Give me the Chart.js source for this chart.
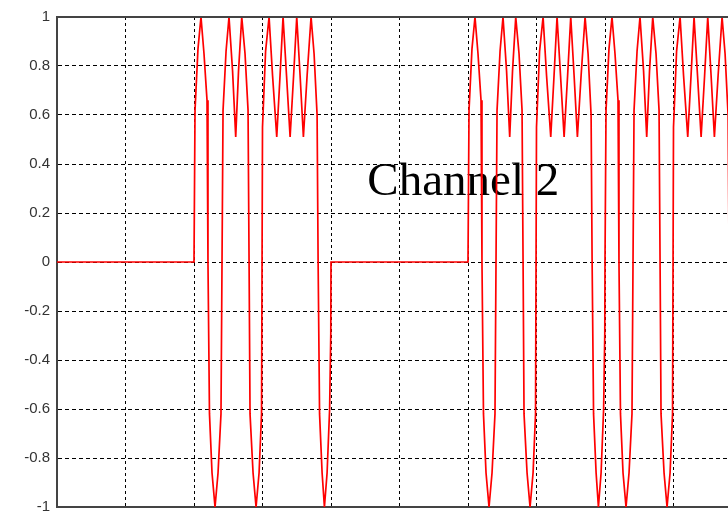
<!DOCTYPE html>
<html>
<head>
<meta charset="utf-8">
<script src="https://cdn.jsdelivr.net/npm/chart.js@4"></script>
<style>
    html, body { margin: 0; padding: 0; background: #fff; overflow: hidden; }
    #wrap { width: 742px; height: 530px; }
</style>
</head>
<body>
<div id="wrap"><canvas id="myChart"></canvas></div>
<script>

// one burst of the channel waveform, x offset from the burst start (in grid units)
const symbol_offsets = [
    0, 0.015, 0.058, 0.102, 0.146, 0.190, 0.204, 0.226, 0.263, 0.307,
    0.351, 0.394, 0.409, 0.424, 0.468, 0.511, 0.563, 0.609, 0.650, 0.697,
    0.745, 0.789, 0.804, 0.818, 0.862, 0.906, 0.950, 0.986, 1.000, 1.045,
    1.096, 1.147, 1.208, 1.256, 1.300, 1.351, 1.403, 1.454, 1.500, 1.549,
    1.597, 1.651, 1.709, 1.753, 1.797, 1.812, 1.833, 1.870, 1.904, 1.943,
    1.980, 1.997, 2.000,
];
const symbol_levels = [
    0, 0.62, 0.87, 1.0, 0.85, 0.66, 0.0, -0.62, -0.86, -1.0,
    -0.86, -0.62, 0.0, 0.62, 0.86, 1.0, 0.78, 0.51, 0.78, 1.0,
    0.85, 0.62, 0.0, -0.62, -0.86, -1.0, -0.86, -0.62, 0.55, 0.86,
    1.0, 0.76, 0.51, 0.76, 1.0, 0.76, 0.51, 0.76, 1.0, 0.76,
    0.51, 0.76, 1.0, 0.85, 0.6, 0.0, -0.62, -0.86, -1.0, -0.86,
    -0.6, -0.29, 0,
];

// where each burst begins; the line idles at 0 in between
const burst_starts = [2, 6, 8];
const idle_start = [0, 0];

const y_ticks = [-1, -0.8, -0.6, -0.4, -0.2, 0, 0.2, 0.4, 0.6, 0.8, 1];

const channel_label = 'Channel 2';
const label_pos = { x: 4.53, y: 0.274 };

const points = [{ x: idle_start[0], y: idle_start[1] }];
burst_starts.forEach(start => {
    symbol_offsets.forEach((dx, i) => {
        points.push({ x: start + dx, y: symbol_levels[i] });
    });
});

// frame on top + the channel caption behind the trace
const framePlugin = {
    id: 'frame',
    beforeDatasetsDraw(chart) {
        const { ctx, scales } = chart;
        ctx.save();
        ctx.font = '47px "Liberation Serif", "Times New Roman", serif';
        ctx.fillStyle = '#000';
        ctx.textAlign = 'left';
        ctx.textBaseline = 'alphabetic';
        ctx.fillText(channel_label, scales.x.getPixelForValue(label_pos.x), scales.y.getPixelForValue(label_pos.y));
        ctx.restore();
    },
    afterDraw(chart) {
        const { ctx, chartArea } = chart;
        ctx.save();
        ctx.strokeStyle = '#444';
        ctx.lineWidth = 2;
        ctx.beginPath();
        ctx.moveTo(chartArea.left, chartArea.top);
        ctx.lineTo(chartArea.right + 5, chartArea.top);
        ctx.stroke();
        ctx.restore();
    }
};

const myChart = new Chart('myChart', {
    type: 'line',
    data: {
        datasets: [
            {
                label: channel_label,
                data: points,
                borderColor: 'rgb(255, 0, 0)',
                borderWidth: 1.7,
                pointRadius: 0,
                tension: 0,
                fill: false,
            },
        ]
    },
    options: {
        responsive: true,
        maintainAspectRatio: false,
        animation: false,
        devicePixelRatio: 1,
        layout: {
            padding: { top: 17, bottom: 23, left: 0, right: 0 }
        },
        plugins: {
            legend: { display: false },
            tooltip: { enabled: false },
        },
        scales: {
            x: {
                type: 'linear',
                min: 0,
                max: 10,
                ticks: { display: false, stepSize: 1 },
                grid: { color: '#000', lineWidth: 1, drawTicks: false },
                border: { display: true, color: '#444', width: 2, dash: [3, 3] },
            },
            y: {
                min: -1,
                max: 1,
                afterFit(scale) { scale.width = 57; },
                afterBuildTicks(scale) { scale.ticks = y_ticks.map(v => ({ value: v })); },
                ticks: {
                    padding: 7,
                    color: '#333',
                    font: { family: '"Liberation Sans", Arial, sans-serif', size: 15 },
                    callback: v => String(Math.round(v * 10) / 10),
                },
                grid: { color: '#000', lineWidth: 1, drawTicks: false },
                border: { display: true, color: '#444', width: 2, dash: [4, 3] },
            }
        }
    },
    plugins: [framePlugin]
});
</script>
</body>
</html>
